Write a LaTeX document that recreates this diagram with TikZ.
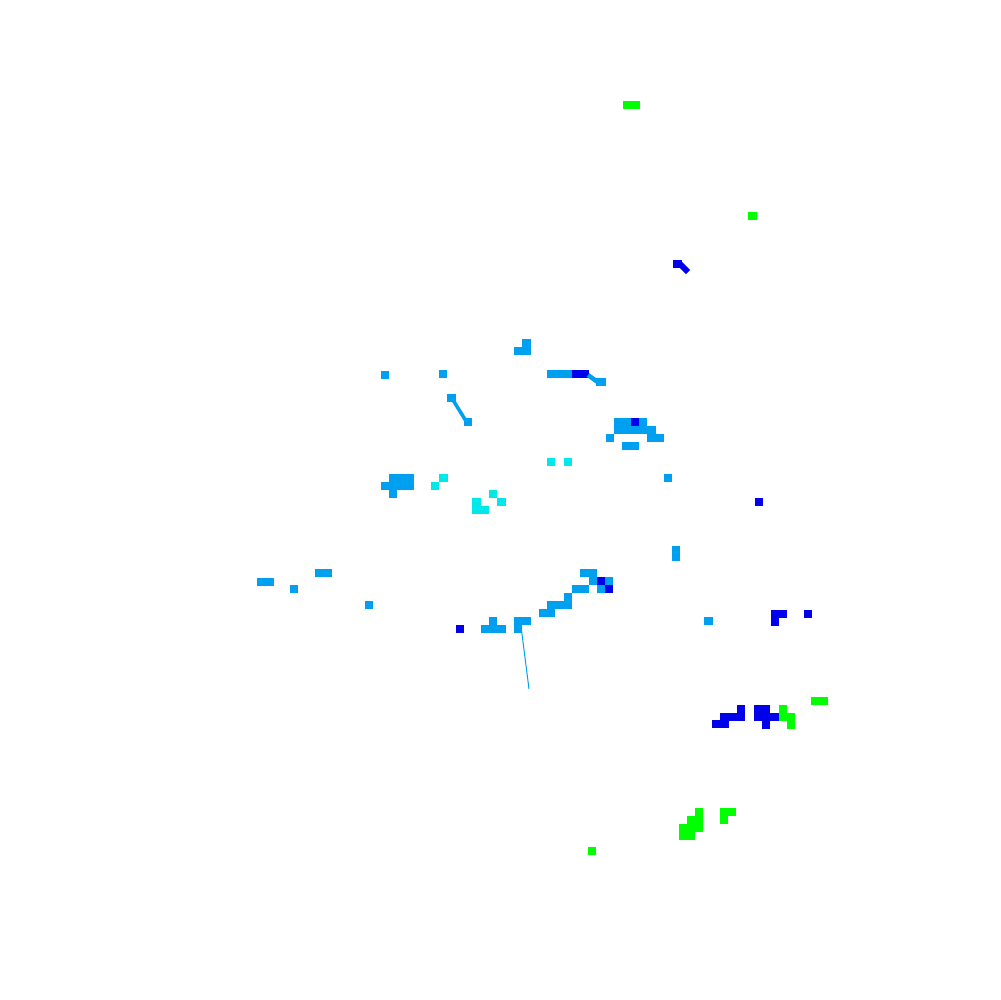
\documentclass[tikz,border=0pt]{standalone}
\usepackage{xcolor}
\usepackage{tikz}
\definecolor{skyblue}{RGB}{0,160,240}
\definecolor{deepblue}{RGB}{0,0,235}
\definecolor{aqua}{RGB}{0,232,232}
\definecolor{lime}{RGB}{0,255,0}

% one filled cell block: colour, x1, y1, x2, y2 (pixels)
\newcommand{\blk}[5]{\fill[#1] (#2,#3) rectangle (#4,#5);}

\begin{document}
\begin{tikzpicture}[x=0.1mm,y=-0.1mm]
    \useasboundingbox (0,0) rectangle (1000,1000);
    \fill[white] (0,0) rectangle (1000,1000);

    % Verde (alto)
    \blk{lime}{623}{101}{640}{109}
    \blk{lime}{748}{212}{757}{220}

    % Blu (alto)
    \blk{deepblue}{673}{260}{682}{268}
    \draw[deepblue,line width=0.6mm] (680,264) -- (688,272);

    % Gruppo centrale azzurro
    \blk{skyblue}{522}{339}{531}{347}
    \blk{skyblue}{514}{347}{531}{355}
    \blk{skyblue}{547}{370}{572}{378}
    \blk{deepblue}{572}{370}{589}{378}
    \draw[skyblue,line width=0.45mm] (588,375) -- (599,383);
    \blk{skyblue}{596}{378}{606}{386}

    \blk{skyblue}{381}{371}{389}{379}
    \blk{skyblue}{439}{370}{447}{378}
    \blk{skyblue}{447}{394}{456}{402}
    \draw[skyblue,line width=0.35mm] (453,400) -- (466,421);
    \blk{skyblue}{464}{418}{472}{426}

    \blk{skyblue}{614}{418}{631}{426}
    \blk{deepblue}{631}{418}{639}{426}
    \blk{skyblue}{639}{418}{647}{426}
    \blk{skyblue}{614}{426}{656}{434}
    \blk{skyblue}{606}{434}{614}{442}
    \blk{skyblue}{647}{434}{664}{442}
    \blk{skyblue}{622}{442}{639}{450}
    \blk{skyblue}{664}{474}{672}{482}

    % Ciano
    \blk{aqua}{547}{458}{555}{466}
    \blk{aqua}{564}{458}{572}{466}
    \blk{aqua}{439}{474}{448}{482}
    \blk{aqua}{431}{482}{439}{490}
    \blk{aqua}{489}{490}{497}{498}
    \blk{aqua}{497}{498}{506}{506}
    \blk{aqua}{472}{498}{481}{506}
    \blk{aqua}{472}{506}{489}{514}

    % Gruppo sinistro
    \blk{skyblue}{389}{474}{414}{482}
    \blk{skyblue}{381}{482}{414}{490}
    \blk{skyblue}{389}{490}{397}{498}

    \blk{deepblue}{755}{498}{763}{506}
    \blk{skyblue}{672}{546}{680}{561}

    \blk{skyblue}{257}{578}{274}{586}
    \blk{skyblue}{315}{569}{332}{577}
    \blk{skyblue}{290}{585}{298}{593}
    \blk{skyblue}{365}{601}{373}{609}

    % Scala
    \blk{deepblue}{456}{625}{464}{633}
    \blk{skyblue}{489}{617}{497}{625}
    \blk{skyblue}{481}{625}{506}{633}
    \blk{skyblue}{514}{617}{531}{625}
    \blk{skyblue}{514}{625}{522}{633}
    \draw[skyblue,line width=0.1mm] (521.5,630) -- (529,689);
    \blk{skyblue}{539}{609}{555}{617}
    \blk{skyblue}{547}{601}{572}{609}
    \blk{skyblue}{564}{593}{572}{601}
    \blk{skyblue}{572}{585}{589}{593}
    \blk{skyblue}{580}{569}{597}{577}
    \blk{skyblue}{589}{577}{597}{585}
    \blk{deepblue}{597}{577}{605}{585}
    \blk{skyblue}{605}{577}{613}{585}
    \blk{skyblue}{597}{585}{605}{593}
    \blk{deepblue}{605}{585}{613}{593}

    % Destra
    \blk{skyblue}{704}{617}{713}{625}
    \blk{deepblue}{771}{610}{787}{618}
    \blk{deepblue}{771}{618}{779}{626}
    \blk{deepblue}{804}{610}{812}{618}

    \blk{deepblue}{737}{705}{745}{721}
    \blk{deepblue}{720}{713}{737}{721}
    \blk{deepblue}{712}{720}{729}{728}
    \blk{deepblue}{754}{705}{770}{713}
    \blk{deepblue}{754}{713}{779}{721}
    \blk{deepblue}{762}{721}{770}{729}
    \blk{lime}{779}{705}{787}{713}
    \blk{lime}{779}{713}{795}{721}
    \blk{lime}{787}{721}{795}{729}
    \blk{lime}{811}{697}{828}{705}

    % Verde (basso)
    \blk{lime}{588}{847}{596}{855}
    \blk{lime}{679}{824}{695}{840}
    \blk{lime}{687}{816}{703}{832}
    \blk{lime}{695}{808}{703}{816}
    \blk{lime}{720}{808}{736}{816}
    \blk{lime}{720}{816}{728}{824}
\end{tikzpicture}
\end{document}
